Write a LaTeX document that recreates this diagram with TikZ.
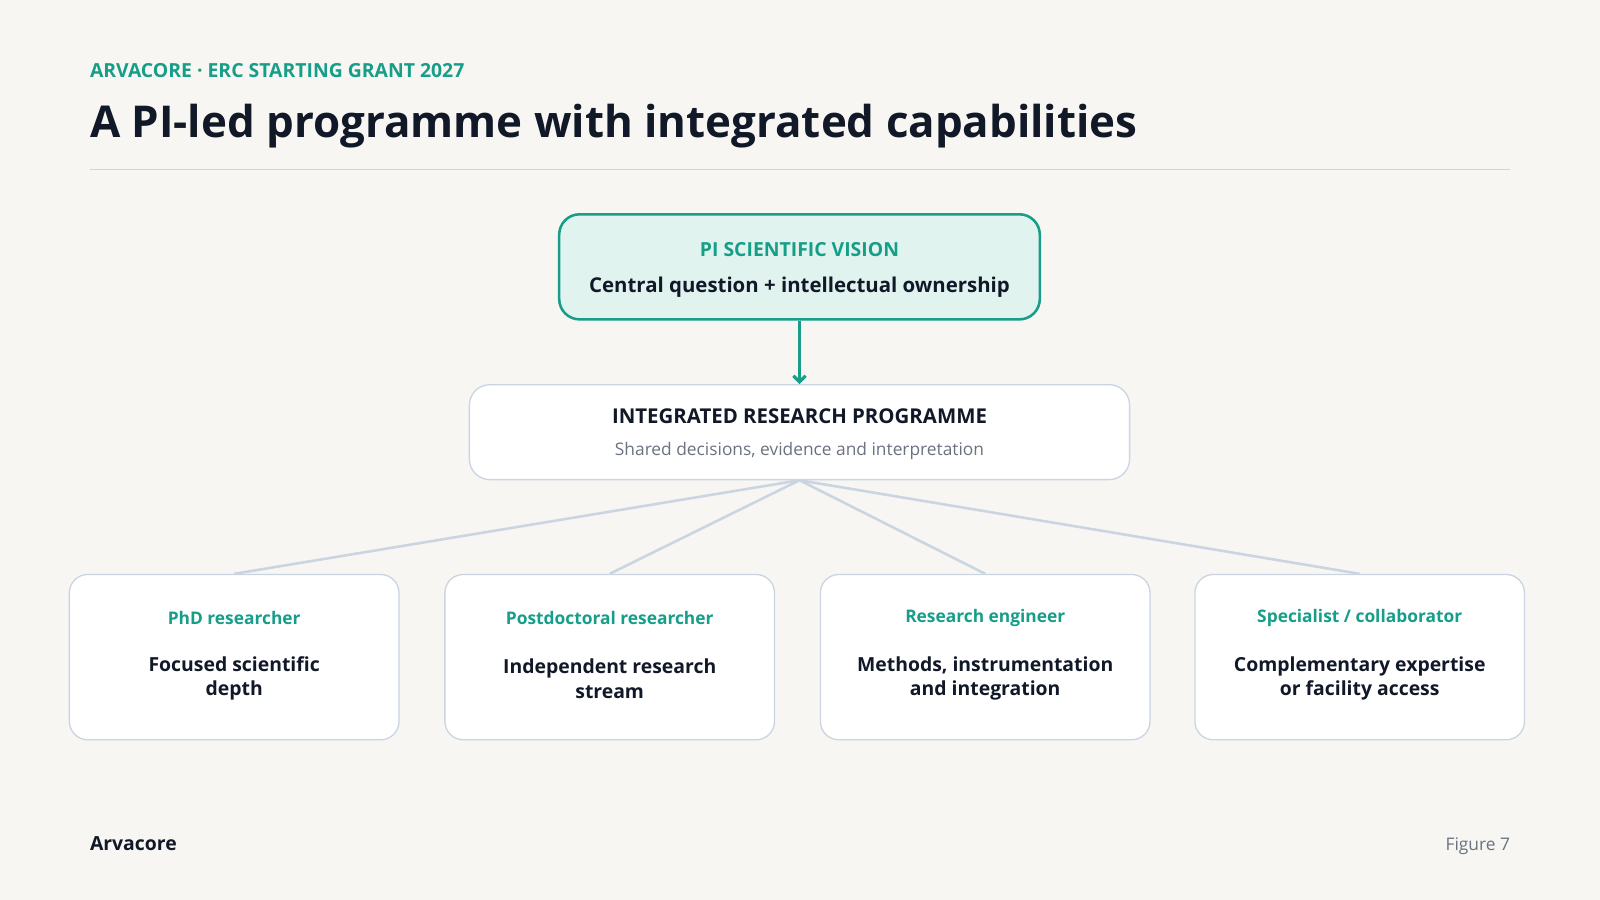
\documentclass[tikz,border=0pt]{standalone}
\usepackage{fontspec}
\setmainfont{Open Sans}
\usetikzlibrary{positioning}
\usetikzlibrary{arrows.meta}
\definecolor{bgcol}{HTML}{F7F6F2}
\definecolor{teal}{HTML}{169E89}
\definecolor{ink}{HTML}{111827}
\definecolor{rule}{HTML}{CBD5E1}
\definecolor{muted}{HTML}{6B7280}
\definecolor{tealfill}{HTML}{E0F3EE}
\tikzset{
  card/.style={rectangle, rounded corners=18pt, draw=rule, line width=1.3pt, fill=white, minimum width=323pt, minimum height=162pt, inner sep=0pt},
  role/.style={font=\fontsize{17}{20}\selectfont\bfseries, text=teal},
  task/.style={font=\fontsize{19}{24}\selectfont\bfseries, text=ink, align=center},
  link/.style={draw=rule, line width=2.5pt}
}
\begin{document}
\begin{tikzpicture}[x=1pt,y=-1pt]
				\fill[bgcol] (0,0) rectangle (1568,882);
				\useasboundingbox (0,0) rectangle (1568,882);
				
				\node[anchor=base west, text=teal, font=\fontsize{19}{22}\selectfont\bfseries, inner sep=0pt] (kicker) at (88,76) {ARVACORE · ERC STARTING GRANT 2027};
				\node[anchor=base west, text=ink, font=\fontsize{43}{48}\selectfont\bfseries, inner sep=0pt] (title) at (88,135) {A PI-led programme with integrated capabilities};
				\coordinate (ruleL) at (88,166);
				\coordinate (ruleR) at (1480,166);
				\draw[rule, line width=1.2pt] (ruleL) -- (ruleR);
				
				\node[rectangle, rounded corners=20pt, draw=teal, line width=2.5pt, fill=tealfill, minimum width=471pt, minimum height=103pt] (vision) at (783.5,261.5) {};
				\node[text=teal, font=\fontsize{19}{22}\selectfont\bfseries] (visionT) at (783.5,245) {PI SCIENTIFIC VISION};
				\node[text=ink, font=\fontsize{20}{24}\selectfont\bfseries] (visionS) at (783.5,281) {Central question + intellectual ownership};
				
				\node[rectangle, rounded corners=20pt, draw=rule, line width=1.3pt, fill=white, minimum width=647pt, minimum height=93pt] (prog) at (783.5,423.5) {};
				\node[text=ink, font=\fontsize{20}{24}\selectfont\bfseries] (progT) at (783.5,408) {INTEGRATED RESEARCH PROGRAMME};
				\node[text=muted, font=\fontsize{17}{20}\selectfont] (progS) at (783.5,442) {Shared decisions, evidence and interpretation};
				
				\draw[teal, line width=3pt, -{Straight Barb[length=6pt,width=12pt]}] (vision.south) -- (prog.north);
				
				\node[card] (phd) at (229.5,644) {};
				\node[card] (postdoc) at (597.5,644) {};
				\node[card] (eng) at (965.5,644) {};
				\node[card] (spec) at (1332.5,644) {};
				
				\node[role] at (229.5,606) {PhD researcher};
				\node[role] at (597.5,606) {Postdoctoral researcher};
				\node[role] at (965.5,606) {Research engineer};
				\node[role] at (1332.5,606) {Specialist / collaborator};
				
				\node[task] at (229.5,665) {Focused scientific\\depth};
				\node[task] at (597.5,665) {Independent research\\stream};
				\node[task] at (965.5,665) {Methods, instrumentation\\and integration};
				\node[task] at (1332.5,665) {Complementary expertise\\or facility access};
				
				\foreach \r in {phd,postdoc,eng,spec}
					\draw[link] (prog.south) -- (\r.north);
				
				\node[anchor=base west, text=ink, font=\fontsize{19}{22}\selectfont\bfseries, inner sep=0pt] (brand) at (88,833) {Arvacore};
				\node[anchor=base east, text=muted, font=\fontsize{17}{20}\selectfont, inner sep=0pt] (fig) at (1480,833) {Figure 7};
			\end{tikzpicture}
\end{document}
